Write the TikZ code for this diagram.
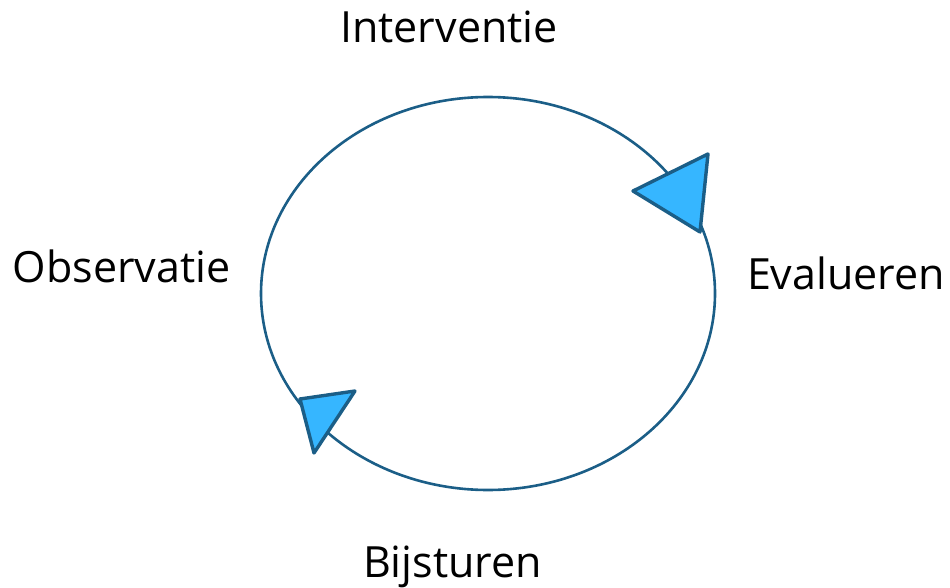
\documentclass[tikz,border=0pt]{standalone}
\usepackage{fontspec}
\setmainfont{Open Sans}
\definecolor{ringblue}{HTML}{1B5E87}
\definecolor{tipfill}{HTML}{36B6FF}
\begin{document}
\begin{tikzpicture}[x=1pt,y=-1pt,
  lbl/.style={anchor=base,inner sep=0pt,font=\fontsize{43}{48}\selectfont},
  ring/.style={draw=ringblue,line width=2.6pt},
  tip/.style={draw=ringblue,fill=tipfill,line width=3.4pt,line join=round}]
\useasboundingbox (0,0) rectangle (950,588);
% the cycle
\draw[ring] (488,293.5) ellipse [x radius=227, y radius=196.5];
% direction markers on the cycle
\draw[tip] (633,191) -- (708,154) -- (700,232) -- cycle;
\draw[tip] (300,399) -- (355,391) -- (314,453) -- cycle;
% stage labels
\node[lbl] (interventie) at (449,43) {Interventie};
\node[lbl] (observatie) at (121.5,282) {Observatie};
\node[lbl] (evalueren) at (846,289) {Evalueren};
\node[lbl] (bijsturen) at (452.5,577) {Bijsturen};
\end{tikzpicture}
\end{document}
